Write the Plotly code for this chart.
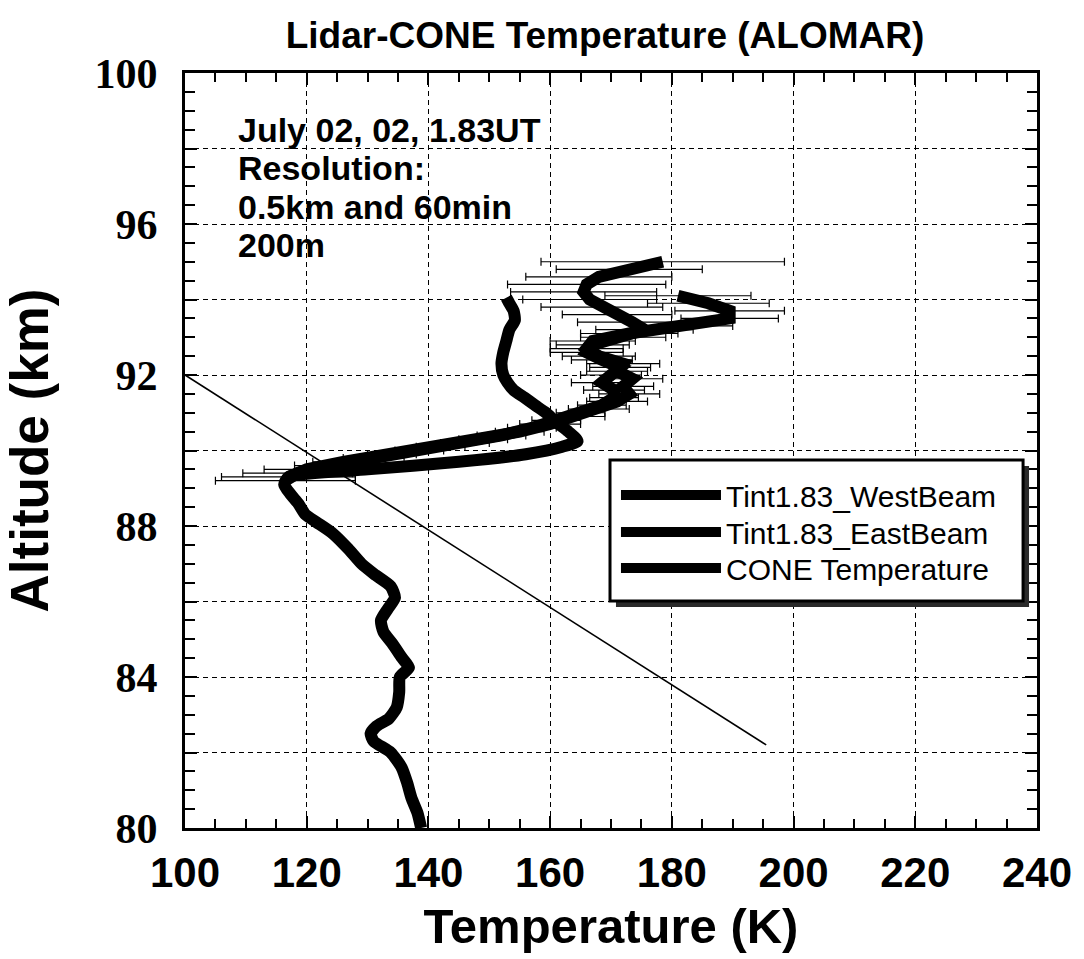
import plotly.graph_objects as go

# ---------------- data ----------------
cone_alt = [80.0, 80.4, 80.8, 81.2, 81.6, 82.0, 82.3, 82.5, 82.7, 82.9, 83.2, 83.6, 84.0,
            84.25, 84.5, 84.9, 85.2, 85.5, 85.8, 86.1, 86.4, 86.7, 87.0, 87.4, 87.8, 88.1,
            88.3, 88.6, 88.85, 89.1, 89.3, 89.5, 89.7, 89.9, 90.1, 90.25, 90.5, 90.75,
            91.0, 91.2, 91.4, 91.6, 91.8, 92.0, 92.3, 92.6, 92.9, 93.2, 93.45, 93.7, 93.9, 94.05]
cone_temp = [138.8, 138.2, 137.2, 136.5, 135.6, 133.8, 131.0, 130.5, 131.5, 133.5, 134.8, 135.2, 135.3,
             136.8, 135.7, 134.0, 132.6, 132.2, 133.3, 134.5, 133.8, 131.3, 129.0, 126.8, 124.3, 121.6,
             119.8, 118.6, 117.3, 116.3, 117.0, 130.0, 145.0, 156.0, 162.0, 164.5, 163.0, 161.0,
             159.3, 157.5, 155.8, 154.0, 153.0, 152.3, 152.0, 152.3, 152.8, 153.3, 154.2, 154.0, 153.3, 152.8]

west_alt = [89.2, 89.4, 89.6, 89.8, 90.0, 90.2, 90.4, 90.6, 90.8, 91.0, 91.2, 91.4, 91.6, 91.8,
            92.0, 92.2, 92.4, 92.6, 92.8, 93.0, 93.2, 93.4, 93.6, 93.8, 94.0, 94.2, 94.4, 94.6, 94.8, 95.0]
west_temp = [116.5, 118.5, 124.0, 131.0, 138.5, 146.0, 152.0, 157.0, 161.0, 165.0, 168.5, 170.5, 170.5, 168.5,
             170.0, 171.5, 168.5, 166.0, 167.0, 172.0, 175.5, 173.5, 171.0, 168.5, 166.5, 165.5, 166.0, 168.0, 173.0, 178.5]
west_err = [11.5, 9, 6, 5, 4, 4, 4, 4, 4, 4, 4, 4, 5, 5,
            5, 5, 5, 6, 6, 7, 8, 9, 9, 10, 11, 12, 13, 12, 12, 20]

east_alt = [89.3, 89.5, 89.7, 89.9, 90.1, 90.3, 90.5, 90.7, 90.9, 91.1, 91.3, 91.5, 91.7, 91.9,
            92.1, 92.3, 92.5, 92.7, 92.9, 93.1, 93.3, 93.5, 93.7, 93.9, 94.1]
east_temp = [117.0, 120.0, 126.0, 134.0, 142.0, 149.0, 155.0, 160.0, 164.0, 168.0, 171.0, 173.0, 172.0, 173.5,
             171.0, 172.0, 168.0, 166.0, 167.0, 173.0, 182.0, 189.5, 189.5, 186.0, 181.0]
east_err = [11, 7, 5, 4, 4, 4, 4, 5, 5, 5, 5, 5, 5, 5,
            5, 6, 6, 6, 7, 8, 8, 8, 9, 10, 12]

ref_line_temp = [100, 195.5]
ref_line_alt = [92.0, 82.2]

series_names = ["Tint1.83_WestBeam", "Tint1.83_EastBeam", "CONE Temperature"]

x_range = [100, 240]
y_range = [80, 100]
y_tickvals = [80, 82, 84, 86, 88, 90, 92, 94, 96, 98, 100]
y_ticktext = ["80", "", "84", "", "88", "", "92", "", "96", "", "100"]

info_lines = ["July 02, 02, 1.83UT", "Resolution:", "0.5km and 60min", "200m"]
title_text = "Lidar-CONE Temperature (ALOMAR)"

# ---------------- figure ----------------
W, H = 1084, 959
L, R, T, B = 185, 43, 73, 131

def px_x(p):
    return (p - L) / (W - L - R)

def px_y(p):
    return (H - B - p) / (H - T - B)

fig = go.Figure()

err_style = dict(type="data", symmetric=True, color="black", thickness=1.2, width=4)

fig.add_trace(go.Scatter(
    x=west_temp, y=west_alt, mode="lines", name=series_names[0], legend="legend",
    line=dict(color="black", width=12),
    error_x=dict(array=west_err, **err_style)))
fig.add_trace(go.Scatter(
    x=east_temp, y=east_alt, mode="lines", name=series_names[1], legend="legend2",
    line=dict(color="black", width=12),
    error_x=dict(array=east_err, **err_style)))
fig.add_trace(go.Scatter(
    x=cone_temp, y=cone_alt, mode="lines", name=series_names[2], legend="legend3",
    line=dict(color="black", width=12, shape="spline", smoothing=0.6)))
fig.add_trace(go.Scatter(
    x=ref_line_temp, y=ref_line_alt, mode="lines", showlegend=False,
    line=dict(color="black", width=1.6)))

axis_common = dict(
    showline=True, linecolor="black", linewidth=3, mirror="allticks",
    ticks="inside", ticklen=12, tickwidth=2, tickcolor="black",
    showgrid=True, gridcolor="black", gridwidth=1.4, griddash="5px,4px",
    zeroline=False,
)

fig.update_xaxes(
    range=x_range, dtick=20, tick0=100,
    tickfont=dict(family="Liberation Sans, Arial", size=42, color="black", weight="bold"),
    ticklabelstandoff=6,
    minor=dict(dtick=5, ticks="inside", ticklen=9, tickwidth=2, tickcolor="black", showgrid=False),
    title=dict(text="Temperature (K)", standoff=14,
               font=dict(family="Liberation Sans, Arial", size=49, color="black", weight="bold")),
    **axis_common)

fig.update_yaxes(
    range=y_range, tickmode="array", tickvals=y_tickvals, ticktext=y_ticktext,
    tickfont=dict(family="Liberation Serif, Times New Roman", size=42, color="black", weight="bold"),
    ticklabelstandoff=16,
    minor=dict(dtick=0.5, ticks="inside", ticklen=10, tickwidth=2, tickcolor="black", showgrid=False),
    title=dict(text="Altitude (km)", standoff=31,
               font=dict(family="Liberation Sans, Arial", size=53, color="black", weight="bold")),
    **axis_common)

info_y = [130, 168, 207, 245]
for line_text, yc in zip(info_lines, info_y):
    fig.add_annotation(
        text=line_text, xref="paper", yref="paper",
        x=px_x(236), y=px_y(yc), xanchor="left", yanchor="middle", align="left",
        showarrow=False,
        font=dict(family="Liberation Sans, Arial", size=34, color="black", weight="bold"))

# legend box (drop shadow + framed white box)
lg_x0, lg_y0, lg_x1, lg_y1 = 612, 460, 1027, 601
fig.add_shape(type="rect", xref="paper", yref="paper", layer="above",
              x0=px_x(lg_x0 + 6), x1=px_x(lg_x1 + 6), y0=px_y(lg_y1 + 6), y1=px_y(lg_y0 + 6),
              fillcolor="#2a2a2a", line=dict(width=0))
fig.add_shape(type="rect", xref="paper", yref="paper", layer="above",
              x0=px_x(lg_x0), x1=px_x(lg_x1), y0=px_y(lg_y1), y1=px_y(lg_y0),
              fillcolor="white", line=dict(color="black", width=3))

legend_rows = [495, 532, 568]
legend_style = dict(xanchor="left", yanchor="middle", bgcolor="rgba(0,0,0,0)", borderwidth=0,
                    font=dict(family="Liberation Sans, Arial", size=30, color="black"),
                    itemwidth=100, tracegroupgap=0)

fig.update_layout(
    width=W, height=H,
    margin=dict(l=L, r=R, t=T, b=B),
    paper_bgcolor="white", plot_bgcolor="white",
    title=dict(text=title_text, x=605 / W, xanchor="center", y=1 - 35 / H, yanchor="middle",
               font=dict(family="Liberation Sans, Arial", size=37, color="black", weight="bold")),
    showlegend=True,
    legend=dict(x=px_x(lg_x0 + 6), y=px_y(legend_rows[0]), **legend_style),
    legend2=dict(x=px_x(lg_x0 + 6), y=px_y(legend_rows[1]), **legend_style),
    legend3=dict(x=px_x(lg_x0 + 6), y=px_y(legend_rows[2]), **legend_style),
)

fig.write_html("out.html", config={"displayModeBar": False},
               post_script="document.body.style.margin='0';document.documentElement.style.overflow='hidden';document.body.style.overflow='hidden';")
